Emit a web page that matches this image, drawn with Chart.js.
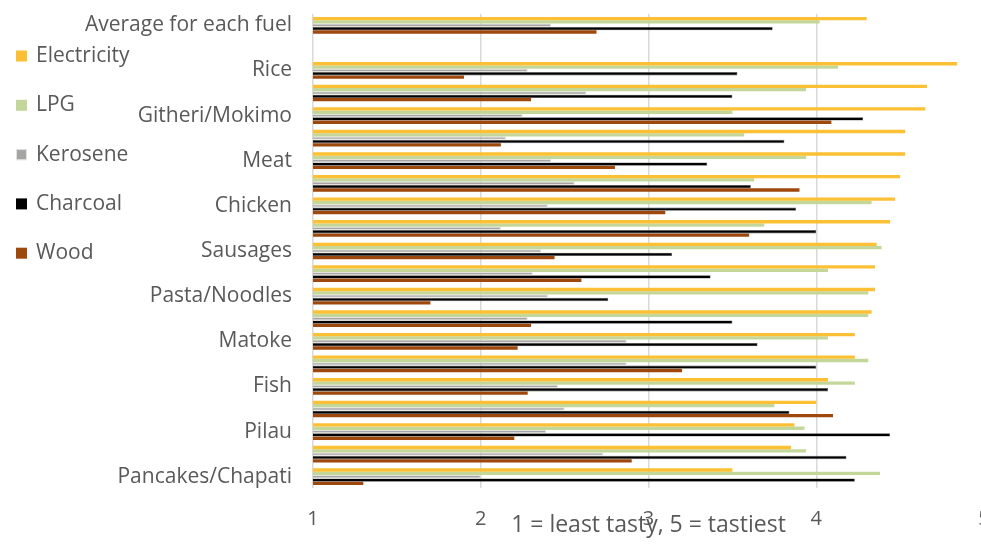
<!DOCTYPE html>
<html>
<head>
<meta charset="utf-8">
<script src="https://cdn.jsdelivr.net/npm/chart.js@4.4.1/dist/chart.umd.min.js"></script>
<style>
  html, body { margin: 0; padding: 0; background: #ffffff; overflow: hidden; width: 981px; height: 546px; }
  #wrap { position: relative; width: 1000px; height: 546px; }
</style>
</head>
<body>
<div id="wrap"><canvas id="c" width="1000" height="546"></canvas></div>
<script>
// Foods, ordered by the electricity rating; rows without a printed name are left blank.
const categories = [
  'Average for each fuel', '', 'Rice', '', 'Githeri/Mokimo', '', 'Meat', '', 'Chicken', '',
  'Sausages', '', 'Pasta/Noodles', '', 'Matoke', '', 'Fish', '', 'Pilau', '', 'Pancakes/Chapati'
];
const fuels = ['Electricity', 'LPG', 'Kerosene', 'Charcoal', 'Wood'];

// Mean taste score per food, 1 = least tasty, 5 = tastiest
const electricity = [4.30, null, 4.84, 4.66, 4.65, 4.53, 4.53, 4.50, 4.47, 4.44, 4.36, 4.35, 4.35, 4.33, 4.23, 4.23, 4.07, 4.00, 3.87, 3.85, 3.50];
const lpg         = [4.02, null, 4.13, 3.94, 3.50, 3.57, 3.94, 3.63, 4.33, 3.69, 4.39, 4.07, 4.31, 4.31, 4.07, 4.31, 4.23, 3.75, 3.93, 3.94, 4.38];
const kerosene    = [2.42, null, 2.28, 2.63, 2.25, 2.15, 2.42, 2.56, 2.40, 2.12, 2.36, 2.31, 2.40, 2.28, 2.87, 2.87, 2.46, 2.50, 2.39, 2.73, 2.00];
const charcoal    = [3.74, null, 3.53, 3.50, 4.28, 3.81, 3.35, 3.61, 3.88, 4.00, 3.14, 3.37, 2.76, 3.50, 3.65, 4.00, 4.07, 3.84, 4.44, 4.18, 4.23];
const wood        = [2.69, null, 1.90, 2.30, 4.09, 2.12, 2.80, 3.90, 3.10, 3.60, 2.44, 2.60, 1.70, 2.30, 2.22, 3.20, 2.28, 4.10, 2.20, 2.90, 1.30];

const scoreTicks = [1, 2, 3, 4, 5];
const axisTitle = '1 = least tasty, 5 = tastiest';

const seriesValues = [electricity, lpg, kerosene, charcoal, wood];
const fuelStyles = [
  { fill: '#FBC034', border: '#FBC034', width: 0 },
  { fill: '#C4D79B', border: '#C4D79B', width: 0 },
  { fill: '#A5A5A5', border: '#E4E2DC', width: 1 },
  { fill: '#000000', border: '#555555', width: 0.6 },
  { fill: '#9E480E', border: '#9E480E', width: 0 }
];

const TEXT = '#595959';
const FONT = "'Open Sans', 'Noto Sans', sans-serif";

// Legend stacked down the left edge, beside the food names
const sideLegend = {
  id: 'sideLegend',
  afterDraw(chart, args, opts) {
    const ctx = chart.ctx;
    ctx.save();
    ctx.font = opts.fontSize + 'px ' + FONT;
    ctx.textBaseline = 'middle';
    ctx.textAlign = 'left';
    chart.data.datasets.forEach((ds, i) => {
      const y = opts.top + i * opts.step;
      const b = opts.box;
      ctx.fillStyle = ds.backgroundColor;
      ctx.fillRect(opts.left, y - b / 2, b, b);
      if (ds.borderWidth >= 1) {
        ctx.strokeStyle = ds.borderColor;
        ctx.lineWidth = 1;
        ctx.strokeRect(opts.left + 0.5, y - b / 2 + 0.5, b - 1, b - 1);
      }
      ctx.fillStyle = TEXT;
      ctx.fillText(ds.label, opts.textX, y);
    });
    ctx.restore();
  }
};

new Chart(document.getElementById('c'), {
  type: 'bar',
  data: {
    labels: categories,
    datasets: fuels.map((name, i) => ({
      label: name,
      data: seriesValues[i],
      backgroundColor: fuelStyles[i].fill,
      borderColor: fuelStyles[i].border,
      borderWidth: fuelStyles[i].width,
      borderSkipped: false,
      categoryPercentage: 0.74,
      barPercentage: 1.0
    }))
  },
  options: {
    indexAxis: 'y',
    responsive: false,
    animation: false,
    devicePixelRatio: 1,
    layout: { padding: { top: 14, right: 16, left: 0, bottom: 0 } },
    plugins: {
      legend: { display: false },
      tooltip: { enabled: false },
      sideLegend: { left: 16, box: 11, textX: 36, top: 56, step: 49.3, fontSize: 21 }
    },
    scales: {
      x: {
        type: 'linear',
        min: scoreTicks[0],
        max: scoreTicks[scoreTicks.length - 1],
        afterBuildTicks(scale) { scale.ticks = scoreTicks.map(v => ({ value: v })); },
        afterFit(scale) {
          scale.height = 58;
          scale.paddingLeft = 0;
          scale.paddingRight = 0;
        },
        grid: { color: '#D9D9D9', lineWidth: 1.5, drawTicks: false },
        border: { display: false },
        ticks: {
          padding: 19,
          color: TEXT,
          font: { family: FONT, size: 20 },
          maxRotation: 0,
          autoSkip: false
        },
        title: {
          display: true,
          text: axisTitle,
          color: TEXT,
          font: { family: FONT, size: 23 },
          padding: { top: 0, bottom: 7 }
        }
      },
      y: {
        afterFit(scale) {
          scale.width = 313;
          scale.paddingTop = 0;
          scale.paddingBottom = 0;
        },
        grid: { display: false, drawTicks: false },
        border: { display: false },
        ticks: {
          autoSkip: false,
          padding: 21,
          color: TEXT,
          font: { family: FONT, size: 21 }
        }
      }
    }
  },
  plugins: [sideLegend]
});
</script>
</body>
</html>
